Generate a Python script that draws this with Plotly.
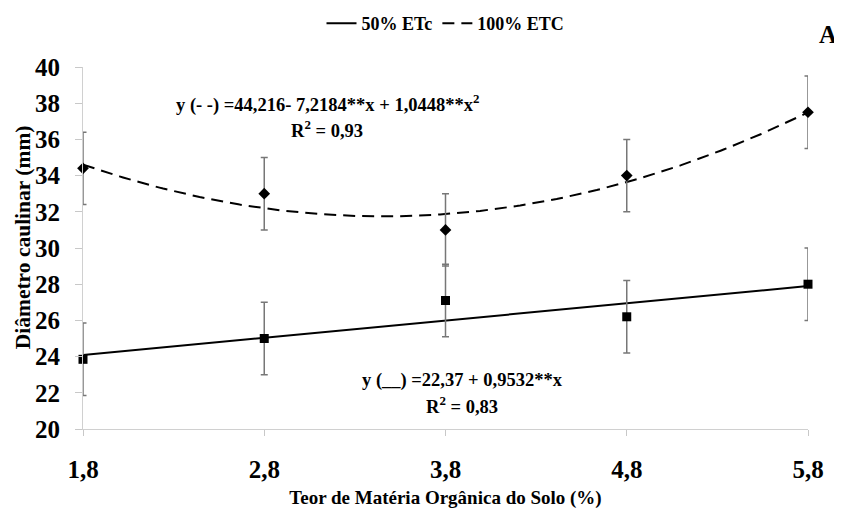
import numpy as np
import plotly.graph_objects as go

# ---- data ----
x_vals = [1.8, 2.8, 3.8, 4.8, 5.8]
x_ticktext = ["1,8", "2,8", "3,8", "4,8", "5,8"]
etc50 = [23.85, 25.0, 27.1, 26.2, 28.0]
err50 = [2.0, 2.0, 2.0, 2.0, 2.0]
etc100 = [34.4, 33.0, 31.0, 34.0, 37.5]
err100 = [2.0, 2.0, 2.0, 2.0, 2.0]
y_ticks = [20, 22, 24, 26, 28, 30, 32, 34, 36, 38, 40]
# fitted regression coefficients shown on the chart
coef50 = [22.37, 0.9532]              # a + b x
coef100 = [44.216, -7.2184, 1.0448]   # a + b x + c x^2

FONT = "Liberation Serif, Times New Roman, serif"

xs = np.linspace(min(x_vals), max(x_vals), 200)
fit50 = coef50[0] + coef50[1] * xs
fit100 = coef100[0] + coef100[1] * xs + coef100[2] * xs ** 2

fig = go.Figure()

fig.add_trace(go.Scatter(x=xs, y=fit50, mode="lines", name="50% ETc",
                         line=dict(color="black", width=2), cliponaxis=False))
fig.add_trace(go.Scatter(x=xs, y=fit100, mode="lines", name="100% ETC",
                         line=dict(color="black", width=2, dash="12px,7px"), cliponaxis=False))

fig.add_trace(go.Scatter(x=x_vals, y=etc50, mode="markers", showlegend=False,
                         marker=dict(symbol="square", size=9, color="black"),
                         error_y=dict(type="data", array=err50, color="#777777", thickness=1.5, width=3.5),
                         cliponaxis=False))
fig.add_trace(go.Scatter(x=x_vals, y=etc100, mode="markers", showlegend=False,
                         marker=dict(symbol="diamond", size=9, color="black"),
                         error_y=dict(type="data", array=err100, color="#777777", thickness=1.5, width=3.5),
                         cliponaxis=False))

# page offset (body margin) compensation
OFF = 8
W, H = 842 - OFF, 513 - OFF
L, T = 83 - OFF, 66.5 - OFF
R = W - (808 - OFF)
B = H - (429 - OFF)

fig.update_layout(
    width=W, height=H,
    margin=dict(l=L, r=R, t=T, b=B, autoexpand=False),
    paper_bgcolor="white", plot_bgcolor="white",
    font=dict(family=FONT, color="black", weight="bold"),
    showlegend=True,
    legend=dict(orientation="h", x=0.5, xanchor="center",
                y=(429 - 23) / (429 - 66.5), yanchor="middle",
                font=dict(family=FONT, size=18, color="black", weight="bold"),
                itemwidth=30, bgcolor="rgba(0,0,0,0)"),
    xaxis=dict(range=[1.8, 5.8], tickvals=x_vals, ticktext=x_ticktext,
               showgrid=False, zeroline=False, showline=True, linecolor="#d0d0d0", linewidth=1,
               ticks="outside", ticklen=6, tickcolor="#c8c8c8", tickwidth=1,
               ticklabelstandoff=12,
               tickfont=dict(family=FONT, size=25, color="black", weight="bold"),
               title=dict(text="Teor de Matéria Orgânica do Solo (%)", standoff=8,
                          font=dict(family=FONT, size=19, color="black", weight="bold"))),
    yaxis=dict(range=[20, 40], tickvals=y_ticks,
               showgrid=False, zeroline=False, showline=True, linecolor="#d0d0d0", linewidth=1,
               ticks="outside", ticklen=7, tickcolor="#c8c8c8", tickwidth=1,
               ticklabelstandoff=10,
               tickfont=dict(family=FONT, size=25, color="black", weight="bold")),
)

# annotations given in page pixel positions (center x, center y)
anns = [
    ("y (- -) =44,216- 7,2184**x + 1,0448**x<sup>2</sup>", 327, 103, 18.5, 0),
    ("R<sup>2</sup> = 0,93", 327, 129, 18.5, 0),
    ("y (__) =22,37 + 0,9532**x", 462, 380, 18.5, 0),
    ("R<sup>2</sup> = 0,83", 462, 405, 18.5, 0),
    ("A", 828, 33.5, 25, 0),
    ("Diâmetro caulinar (mm)", 23, 237, 21.5, -90),
]
pw = W - L - R
ph = H - T - B
for text, px, py, size, ang in anns:
    fx = px - OFF
    fy = py - OFF
    fig.add_annotation(x=(fx - L) / pw, y=(H - B - fy) / ph, xref="paper", yref="paper",
                       xanchor="center", yanchor="middle", showarrow=False,
                       text=text, textangle=ang,
                       font=dict(family=FONT, size=size, color="black", weight="bold"))

fig.write_html("out.html")
